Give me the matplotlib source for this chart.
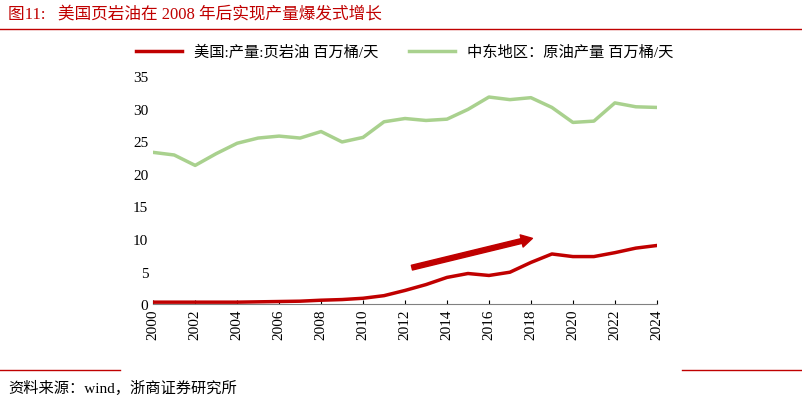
import matplotlib
matplotlib.use("Agg")
import matplotlib.pyplot as plt

plt.rcParams['font.family'] = ['Liberation Serif', 'Noto Sans CJK SC', 'DejaVu Sans']

years = list(range(2000, 2025))
us_shale = [0.3,0.3,0.3,0.3,0.3,0.35,0.4,0.45,0.6,0.7,0.9,1.3,2.1,3.0,4.1,4.7,4.4,4.9,6.4,7.7,7.3,7.3,7.9,8.6,9.0]
mideast = [23.3,22.9,21.3,23.1,24.7,25.5,25.8,25.5,26.5,24.9,25.6,28.0,28.5,28.2,28.4,29.9,31.8,31.4,31.7,30.2,27.9,28.1,30.9,30.3,30.2]
labels = ['美国:产量:页岩油 百万桶/天', '中东地区：原油产量 百万桶/天']
title = '图11:   美国页岩油在 2008 年后实现产量爆发式增长'
source = '资料来源：wind，浙商证券研究所'

fig = plt.figure(figsize=(8.02, 4.02), dpi=100)
ax = fig.add_axes([0.191, 0.241, 0.628, 0.567])
ax.plot(years, us_shale, color='#C00000', lw=2.5, label=labels[0])
ax.plot(years, mideast, color='#A9D18E', lw=2.5, label=labels[1])
ax.set_xlim(2000, 2024)
ax.set_ylim(0, 35)
ax.set_xticks(range(2000, 2025, 2))
ax.set_xticklabels([str(y) for y in range(2000, 2025, 2)], rotation=90, fontsize=11)
ax.set_yticks(range(0, 36, 5))
ax.tick_params(axis='y', labelsize=11, length=0)
ax.tick_params(axis='x', direction='in', length=3)
for s in ['top', 'right', 'left']:
    ax.spines[s].set_visible(False)
ax.spines['bottom'].set_color('#808080')
ax.annotate('', xy=(2018.2, 10.2), xytext=(2012.2, 5.5),
            arrowprops=dict(arrowstyle='simple,head_width=0.9,head_length=0.8,tail_width=0.35',
                            color='#C00000'))
ax.legend(loc='upper center', bbox_to_anchor=(0.5, 1.2), ncol=2, frameon=False,
          fontsize=11, handlelength=3, columnspacing=2)

fig.text(0.01, 0.965, title, color='#C00000', fontsize=12, va='center')
fig.add_artist(plt.Line2D([0, 1], [0.925, 0.925], color='#C00000', lw=1))
fig.add_artist(plt.Line2D([0, 0.15], [0.078, 0.078], color='#C00000', lw=1))
fig.add_artist(plt.Line2D([0.85, 1], [0.078, 0.078], color='#C00000', lw=1))
fig.text(0.01, 0.035, source, fontsize=11, va='center')
fig.savefig('out.png', dpi=100)
